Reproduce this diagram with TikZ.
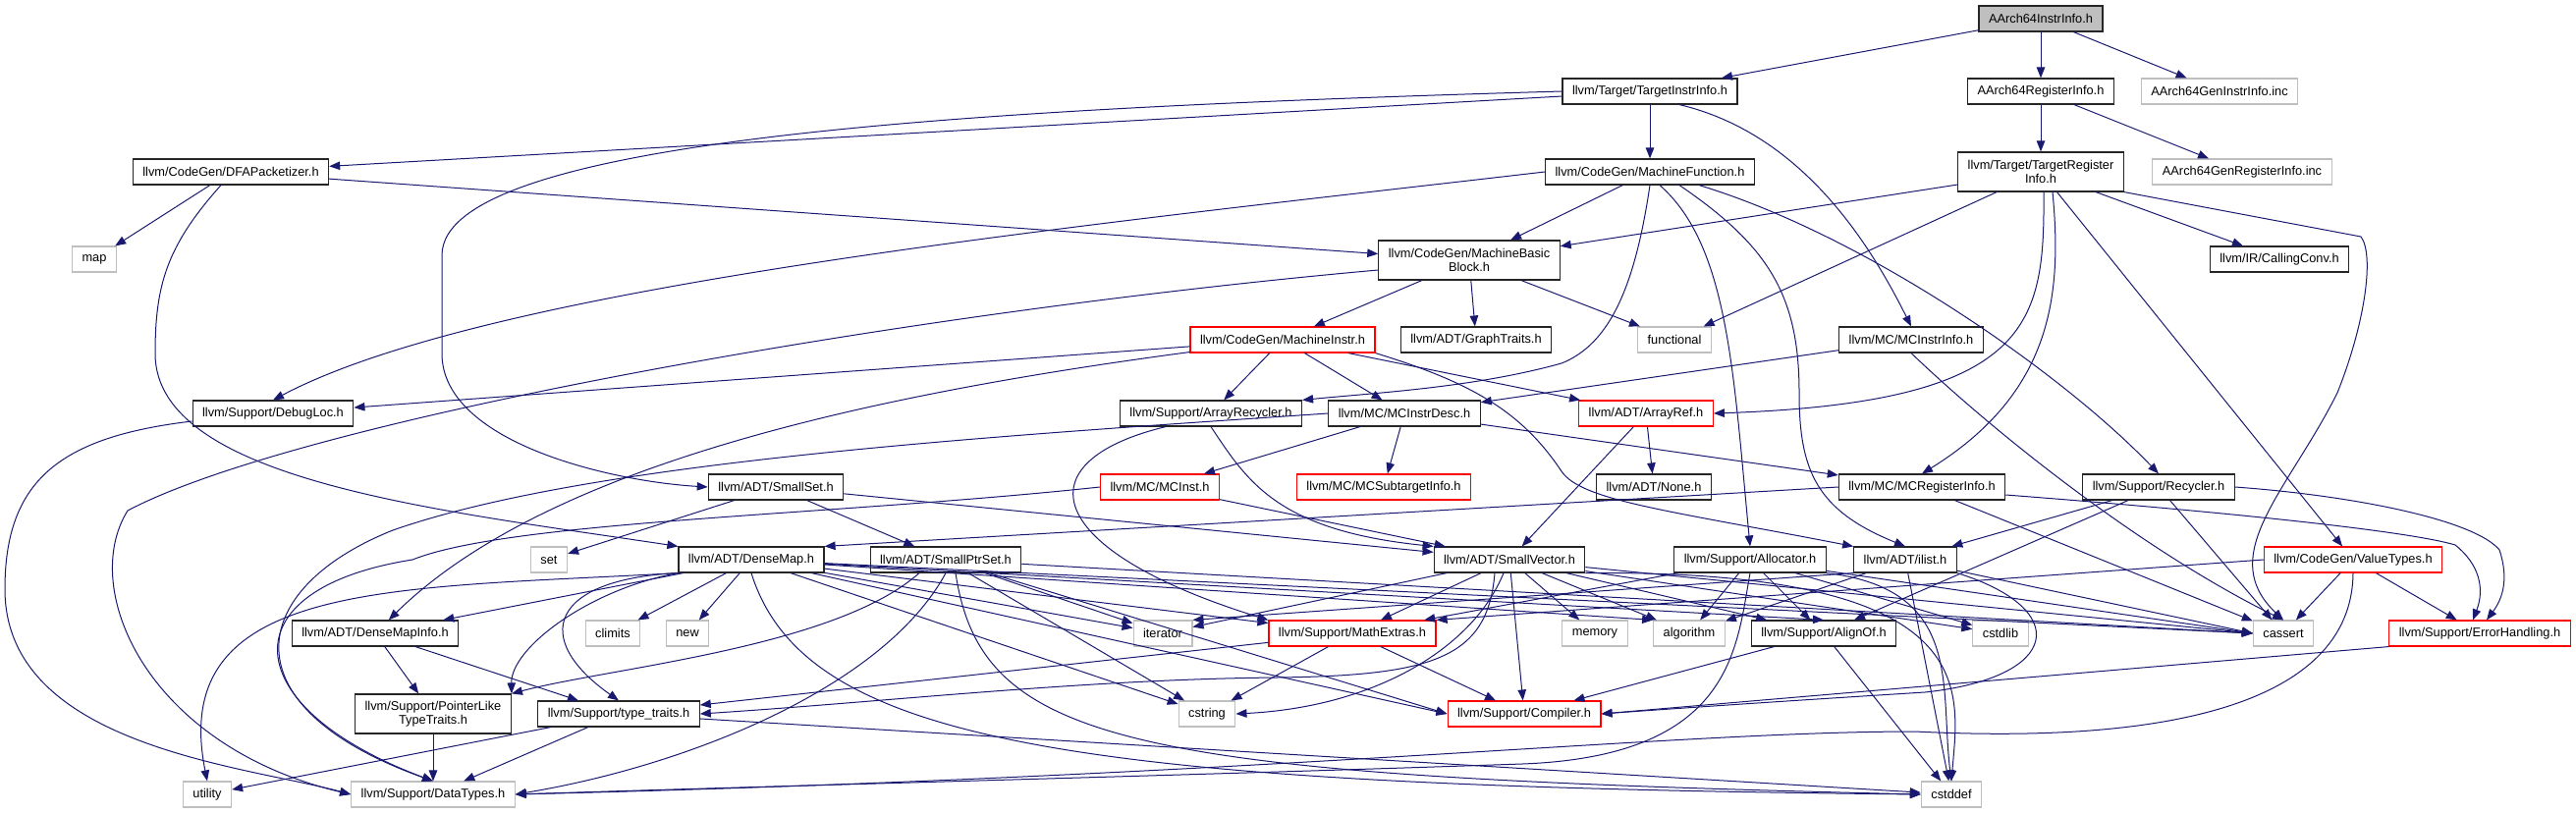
\documentclass[tikz,border=0pt]{standalone}
\usepackage{fontspec}
\setsansfont{Liberation Sans}
\usetikzlibrary{arrows.meta}
\definecolor{edgeblue}{RGB}{25,25,112}
\definecolor{sysgray}{RGB}{191,191,191}
\newcommand{\incfont}{\sffamily\fontsize{12.8}{14.5}\selectfont}

\begin{document}
\begin{tikzpicture}[x=1pt,y=-1pt,
 hfile/.style={draw=black!85,line width=1.15pt,fill=white,minimum height=26pt,inner xsep=10pt,inner ysep=2pt,font=\incfont,align=center},
 redfile/.style={hfile,draw=red},
 sysfile/.style={hfile,draw=sysgray},
 rootfile/.style={hfile,fill=sysgray},
 twoline/.style={minimum height=40pt},
 incl/.style={draw=edgeblue,line width=1pt,-{Triangle[length=11pt,width=8.5pt]}}]
\useasboundingbox (0,0) rectangle (2623,828);

\node[rootfile] (root) at (2078,19) {AArch64InstrInfo.h};
\node[hfile] (reginfo) at (2078,93) {AArch64RegisterInfo.h};
\node[sysfile] (geninstr) at (2260,93) {AArch64GenInstrInfo.inc};
\node[hfile] (tii) at (1680,93) {llvm/Target/TargetInstrInfo.h};
\node[hfile] (dfa) at (235,175) {llvm/CodeGen/DFAPacketizer.h};
\node[hfile] (mf) at (1680,175) {llvm/CodeGen/MachineFunction.h};
\node[hfile,twoline] (tri) at (2078,175) {llvm/Target/TargetRegister\\Info.h};
\node[sysfile] (genreg) at (2283,175) {AArch64GenRegisterInfo.inc};
\node[sysfile] (map) at (96,264) {map};
\node[hfile,twoline] (mbb) at (1496,265) {llvm/CodeGen/MachineBasic\\Block.h};
\node[hfile] (cconv) at (2321,264) {llvm/IR/CallingConv.h};
\node[redfile] (mi) at (1306,346) {llvm/CodeGen/MachineInstr.h};
\node[hfile] (gtraits) at (1503,346) {llvm/ADT/GraphTraits.h};
\node[sysfile] (functional) at (1705,346) {functional};
\node[hfile] (mcii) at (1946,346) {llvm/MC/MCInstrInfo.h};
\node[hfile] (debugloc) at (278,421) {llvm/Support/DebugLoc.h};
\node[hfile] (arec) at (1233,421) {llvm/Support/ArrayRecycler.h};
\node[hfile] (mcid) at (1430,421) {llvm/MC/MCInstrDesc.h};
\node[redfile] (aref) at (1676,421) {llvm/ADT/ArrayRef.h};
\node[hfile] (smallset) at (790,496) {llvm/ADT/SmallSet.h};
\node[redfile] (mcinst) at (1181,496) {llvm/MC/MCInst.h};
\node[redfile] (mcsti) at (1409,496) {llvm/MC/MCSubtargetInfo.h};
\node[hfile] (noneh) at (1684,496) {llvm/ADT/None.h};
\node[hfile] (mcri) at (1957,496) {llvm/MC/MCRegisterInfo.h};
\node[hfile] (recycler) at (2198,496) {llvm/Support/Recycler.h};
\node[sysfile] (set) at (559,570) {set};
\node[hfile] (densemap) at (765,570) {llvm/ADT/DenseMap.h};
\node[hfile] (sptrset) at (963,570) {llvm/ADT/SmallPtrSet.h};
\node[hfile] (svec) at (1537,570) {llvm/ADT/SmallVector.h};
\node[hfile] (alloc) at (1782,570) {llvm/Support/Allocator.h};
\node[hfile] (ilist) at (1940,570) {llvm/ADT/ilist.h};
\node[redfile] (vtypes) at (2396,570) {llvm/CodeGen/ValueTypes.h};
\node[hfile] (dmi) at (382,645) {llvm/ADT/DenseMapInfo.h};
\node[sysfile] (climits) at (624,645) {climits};
\node[sysfile] (cnew) at (700,645) {new};
\node[sysfile] (iterator) at (1184,645) {iterator};
\node[redfile] (mathx) at (1377,645) {llvm/Support/MathExtras.h};
\node[sysfile] (memory) at (1624,645) {memory};
\node[sysfile] (algorithm) at (1720,645) {algorithm};
\node[hfile] (alignof) at (1857,645) {llvm/Support/AlignOf.h};
\node[sysfile] (cstdlib) at (2037,645) {cstdlib};
\node[sysfile] (cassert) at (2325,645) {cassert};
\node[redfile] (errh) at (2525,645) {llvm/Support/ErrorHandling.h};
\node[hfile,twoline] (pltt) at (441,727) {llvm/Support/PointerLike\\TypeTraits.h};
\node[hfile] (ttraits) at (630,727) {llvm/Support/type\_traits.h};
\node[sysfile] (cstring) at (1229,727) {cstring};
\node[redfile] (compiler) at (1552,727) {llvm/Support/Compiler.h};
\node[sysfile] (utility) at (211,809) {utility};
\node[sysfile] (datatypes) at (441,809) {llvm/Support/DataTypes.h};
\node[sysfile] (cstddef) at (1987,809) {cstddef};

\foreach \a/\b in {root/reginfo, root/tii, root/geninstr, reginfo/tri, reginfo/genreg,
 tii/dfa, tii/mf, dfa/map, dfa/mbb, mf/mbb, tri/mbb, tri/functional, tri/vtypes, tri/cconv,
 mbb/mi, mbb/gtraits, mbb/functional, mi/arec, mi/mcid, mi/aref, mi/debugloc, mcii/mcid,
 mcid/mcinst, mcid/mcsti, mcid/mcri, aref/noneh, aref/svec,
 smallset/set, smallset/sptrset, smallset/svec, mcinst/svec,
 mcri/cassert, recycler/ilist, recycler/alignof, recycler/cassert,
 mcri.west/densemap.north east,
 densemap/dmi, densemap/climits, densemap/cnew, densemap/iterator, densemap/cstring,
 densemap/mathx, densemap/compiler.west, densemap/algorithm.north west,
 densemap/alignof.north, densemap/cassert.west,
 sptrset/iterator, sptrset/cstring, sptrset/compiler.west, sptrset/cassert.west,
 svec/iterator, svec/mathx, svec/compiler, svec/memory, svec/algorithm, svec/alignof,
 svec/cstdlib, svec/cassert.west,
 alloc/mathx, alloc/algorithm, alloc/alignof, alloc/cstdlib, alloc/cassert.west,
 ilist.south west/iterator.north east, ilist/algorithm, ilist/cassert.west, ilist/cstddef,
 vtypes/cassert, vtypes/errh, vtypes.west/mathx.north east,
 alignof/compiler, alignof/cstddef, errh.south west/compiler.east,
 mathx/ttraits, mathx/cstring, mathx/compiler,
 dmi/pltt, dmi/ttraits, pltt/datatypes, ttraits/datatypes, ttraits/utility, ttraits/cstddef}
 \draw[incl] (\a) -- (\b);

% long routed edges
\draw[incl] (tii.west) .. controls (1000,110) and (450,140) .. (450,260) -- (450,360)
 .. controls (450,450) and (620,490) .. (smallset.west);
\draw[incl] ([xshift=30pt]tii.south) .. controls (1830,135) and (1900,240) .. (mcii.north);
\draw[incl] ([xshift=-10pt]dfa.south) .. controls (170,250) and (158,290) .. (158,360)
 .. controls (158,490) and (450,520) .. (densemap.north west);
\draw[incl] (mf.west) .. controls (1100,230) and (500,290) .. (debugloc.north);
\draw[incl] (mf.south) .. controls (1665,290) and (1640,350) .. (1590,370)
 .. controls (1500,395) and (1400,400) .. (arec.north east);
\draw[incl] ([xshift=10pt]mf.south) .. controls (1760,250) and (1765,380) .. (alloc.north);
\draw[incl] ([xshift=30pt]mf.south) .. controls (1800,250) and (1832,300) .. (1832,400)
 .. controls (1832,480) and (1850,520) .. (ilist.north);
\draw[incl] ([xshift=50pt]mf.south) .. controls (1900,240) and (2100,380) .. (recycler.north);
\draw[incl] ([xshift=3pt]tri.south) .. controls (2082,330) and (2070,410) .. (aref.east);
\draw[incl] ([xshift=12pt]tri.south) .. controls (2100,300) and (2090,400) .. (mcri.north);
\draw[incl] (tri.south east) -- (2404,241) .. controls (2418,260) and (2408,330) .. (2380,400)
 .. controls (2330,500) and (2255,565) .. (cassert.north);
\draw[incl] ([yshift=-10pt]mbb.west) .. controls (900,320) and (300,430) .. (130,520)
 .. controls (80,600) and (150,760) .. (datatypes.west);
\draw[incl] ([yshift=-8pt]debugloc.west) .. controls (60,445) and (5,490) .. (5,600)
 .. controls (5,760) and (250,780) .. (datatypes.west);
\draw[incl] (mi) .. controls (900,400) and (560,470) .. (dmi);
\draw[incl] (mi.south east) .. controls (1500,390) and (1550,420) .. (1590,480)
 .. controls (1610,510) and (1700,520) .. (ilist.north west);
\draw[incl] (mcii.south) .. controls (2030,440) and (2180,560) .. (cassert.north);
\draw[incl] (arec.south) .. controls (1270,490) and (1300,540) .. (svec.north west);
\draw[incl] ([xshift=-46pt]arec.south) .. controls (1040,470) and (1060,560) .. (mathx.north west);
\draw[incl] (mcid.west) .. controls (1000,445) and (600,470) .. (400,540)
 .. controls (250,600) and (230,720) .. (datatypes.north);
\draw[incl] (mcinst.west) .. controls (850,525) and (520,530) .. (420,570)
 .. controls (230,600) and (240,720) .. (datatypes.north);
\draw[incl] ([yshift=-8pt]mcri.east) .. controls (2250,520) and (2450,540) .. (2500,555)
 .. controls (2525,575) and (2530,600) .. ([xshift=-7pt]errh.north);
\draw[incl] (recycler.east) .. controls (2400,505) and (2520,530) .. (2545,560)
 .. controls (2555,590) and (2548,610) .. ([xshift=7pt]errh.north);
\draw[incl] (densemap.south west) .. controls (600,600) and (520,660) .. (pltt.north east);
\draw[incl] (densemap.south west) .. controls (560,590) and (540,650) .. (ttraits.north);
\draw[incl] (densemap.south west) .. controls (400,600) and (170,590) .. (utility.north);
\draw[incl] (densemap.south) .. controls (820,760) and (1100,800) .. (cstddef.west);
\draw[incl] ([xshift=-27pt]sptrset.south) .. controls (850,660) and (620,680) .. (pltt.north east);
\draw[incl] (sptrset.south) .. controls (900,700) and (700,780) .. (datatypes.east);
\draw[incl] ([xshift=10pt]sptrset.south) .. controls (1000,760) and (1150,790) .. (cstddef.west);
\draw[incl] (svec.south east) .. controls (2020,580) and (1995,700) .. (cstddef.north);
\draw[incl] ([xshift=-6pt]svec.south) .. controls (1500,660) and (1400,720) .. (cstring.east);
\draw[incl] ([xshift=-15pt]svec.south) .. controls (1515,670) and (1460,688) .. (1300,690)
 .. controls (1100,692) and (900,715) .. (ttraits.east);
\draw[incl] (alloc.south east) .. controls (2000,600) and (1975,700) .. (cstddef.north);
\draw[incl] (alloc.south) .. controls (1768,660) and (1765,770) .. (1550,778)
 .. controls (1200,790) and (800,800) .. (datatypes.east);
\draw[incl] (ilist.south east) .. controls (2110,620) and (2100,690) .. (1960,705)
 .. controls (1800,715) and (1700,722) .. (compiler.east);
\draw[incl] (vtypes.south) .. controls (2395,700) and (2250,760) .. (1950,745)
 .. controls (1700,745) and (1300,790) .. (datatypes.east);
\end{tikzpicture}
\end{document}
